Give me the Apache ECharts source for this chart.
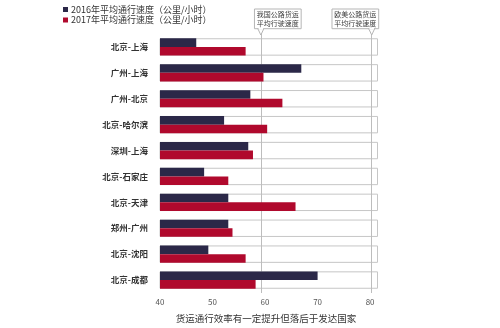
<!DOCTYPE html>
<html>
<head>
<meta charset="utf-8">
<style>
  html, body { margin: 0; padding: 0; background: #ffffff; }
  #chart { width: 500px; height: 328px; }
</style>
<script src="https://cdn.jsdelivr.net/npm/echarts@6/dist/echarts.min.js"></script>
</head>
<body>
<div id="chart"></div>
<script>
// Routes, top to bottom
const routes = ['北京-上海', '广州-上海', '广州-北京', '北京-哈尔滨', '深圳-上海',
                '北京-石家庄', '北京-天津', '郑州-广州', '北京-沈阳', '北京-成都'];
// Average freight speed (km/h)
const speed2016 = [46.9, 66.9, 57.2, 52.2, 56.8, 48.4, 53.0, 53.0, 49.2, 70.0];
const speed2017 = [56.3, 59.7, 63.3, 60.4, 57.7, 53.0, 65.8, 53.8, 56.3, 58.2];
const seriesNames = ['2016年平均通行速度（公里/小时）', '2017年平均通行速度（公里/小时）'];
// Reference speeds marked with vertical lines
const refSpeeds = [59.2, 80.3];
const refLabels = [['我国公路货运', '平均行驶速度'], ['欧美公路货运', '平均行驶速度']];
const axisTicks = [40, 50, 60, 70, 80];
const axisMin = 40;
const axisMax = 81.5;
const caption = '货运通行效率有一定提升但落后于发达国家';

const FONT = '"Noto Sans CJK SC", "Noto Sans", sans-serif';
const chart = echarts.init(document.getElementById('chart'), null, { renderer: 'canvas' });

const option = {
  backgroundColor: '#ffffff',
  textStyle: { fontFamily: FONT },
  animation: false,
  title: {
    text: caption,
    left: 261,
    textAlign: 'center',
    top: 309,
    textStyle: { fontFamily: FONT, fontSize: 9.5, fontWeight: 'normal', color: '#333333' }
  },
  legend: {
    data: seriesNames,
    orient: 'vertical',
    left: 58,
    top: 0,
    itemWidth: 5,
    itemHeight: 5,
    itemGap: 1.5,
    icon: 'rect',
    selectedMode: false,
    textStyle: { fontFamily: FONT, fontSize: 9, color: '#333333', padding: [0, 0, 0, -2] }
  },
  grid: { left: 160, right: 122, top: 34, bottom: 35 },
  xAxis: {
    type: 'value',
    min: axisMin,
    max: axisMax,
    interval: 10,
    axisLine: { show: false },
    axisTick: { show: false },
    splitLine: { show: false },
    axisLabel: {
      fontFamily: FONT, fontSize: 8, color: '#555555', margin: 5,
      formatter: v => axisTicks.includes(v) ? String(v) : ''
    }
  },
  yAxis: [
    {
      type: 'category',
      data: routes,
      inverse: true,
      axisLine: { show: false },
      axisTick: { show: false },
      axisLabel: { fontFamily: FONT, fontSize: 8.5, fontWeight: 'bold', color: '#333333', margin: 12 }
    },
    {
      type: 'category',
      data: routes,
      inverse: true,
      show: false
    }
  ],
  series: [
    {
      // outlined frame behind each route's pair of bars
      name: 'frame',
      type: 'bar',
      yAxisIndex: 1,
      data: routes.map(() => axisMax),
      barWidth: 17.4,
      silent: true,
      z: 1,
      itemStyle: { color: '#ffffff', borderColor: '#c6c6c6', borderWidth: 1 },
      markLine: {
        silent: true,
        z: 2,
        symbol: 'none',
        label: { show: false },
        lineStyle: { color: '#bdbdbd', width: 1, type: 'solid' },
        data: refSpeeds.map(v => ({ xAxis: v }))
      }
    },
    {
      name: seriesNames[0],
      type: 'bar',
      data: speed2016,
      barWidth: 8.6,
      barGap: '0%',
      z: 10,
      itemStyle: { color: '#2b2848' }
    },
    {
      name: seriesNames[1],
      type: 'bar',
      data: speed2017,
      barWidth: 8.6,
      barGap: '0%',
      z: 10,
      itemStyle: { color: '#b0092d' }
    }
  ]
};

chart.setOption(option);

// Callout boxes above the reference lines, placed from the axis scale
const topY = 34;
const boxTop = 9, boxBottom = 28.7;
const callouts = [];
refSpeeds.forEach((v, i) => {
  const x = chart.convertToPixel({ xAxisIndex: 0 }, v);
  const left = i === 0 ? x - 6.4 : x - 39.7;
  const w = 46.7;
  callouts.push({
    type: 'rect',
    shape: { x: left, y: boxTop, width: w, height: boxBottom - boxTop },
    style: { fill: '#ffffff', stroke: '#b5b5b5', lineWidth: 1 },
    z: 20
  });
  callouts.push({
    type: 'polygon',
    shape: { points: [[x - 3, boxBottom], [x, topY + 1], [x + 3, boxBottom]] },
    style: { fill: '#ffffff', stroke: '#b5b5b5', lineWidth: 1 },
    z: 21
  });
  callouts.push({
    type: 'rect',
    shape: { x: x - 2.3, y: boxBottom - 1, width: 4.6, height: 1.6 },
    style: { fill: '#ffffff' },
    z: 22
  });
  callouts.push({
    type: 'text',
    x: left + w / 2,
    y: (boxTop + boxBottom) / 2,
    style: {
      text: refLabels[i].join('\n'),
      fontFamily: FONT,
      fontSize: 7,
      lineHeight: 8.5,
      fill: '#3a3a3a',
      align: 'center',
      verticalAlign: 'middle'
    },
    z: 23
  });
});
chart.setOption({ graphic: callouts });
</script>
</body>
</html>
